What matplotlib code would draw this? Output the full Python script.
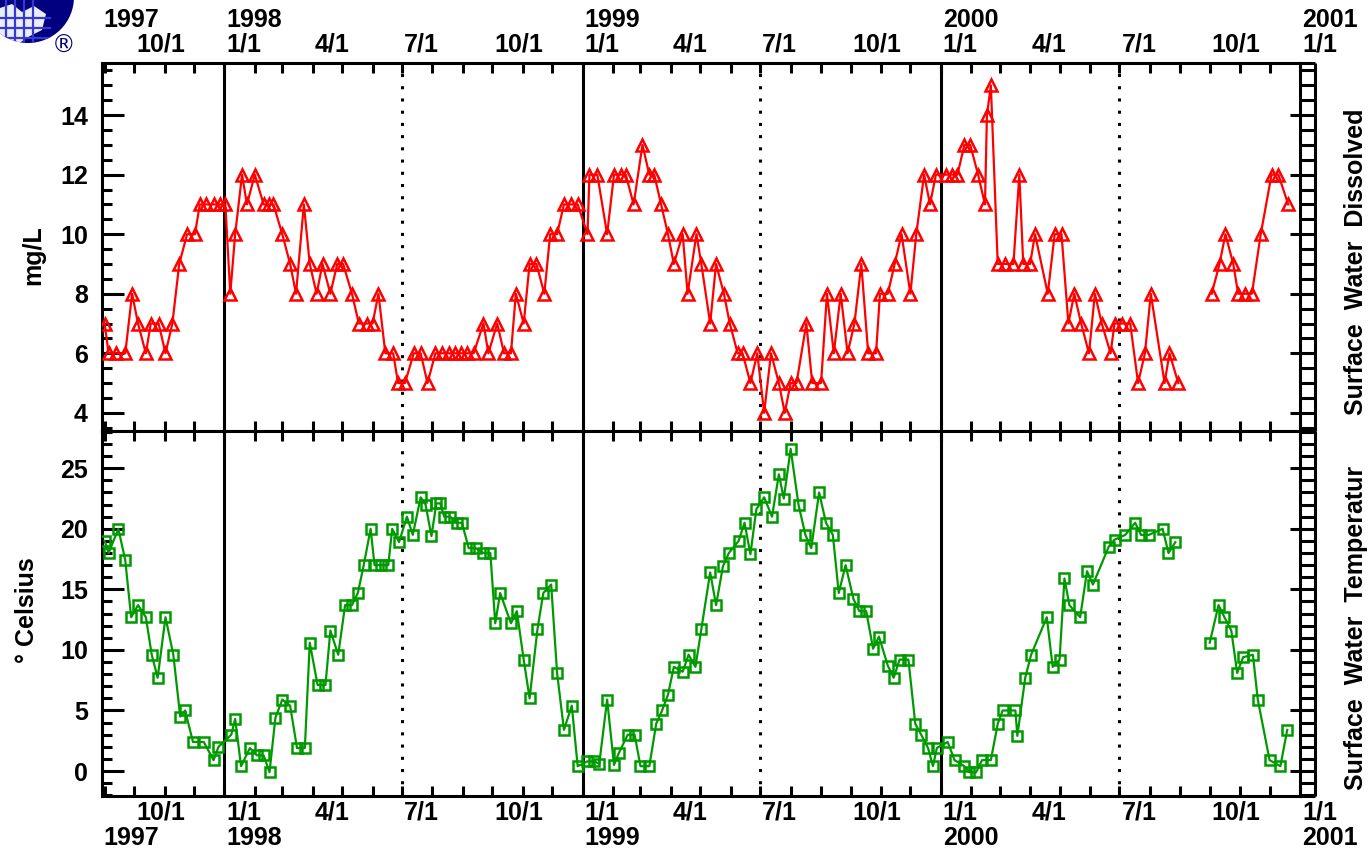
import datetime as dt
import numpy as np
import matplotlib
matplotlib.use("Agg")
import matplotlib.pyplot as plt
import matplotlib.dates as mdates
from matplotlib.ticker import MultipleLocator, NullLocator, NullFormatter
from matplotlib.transforms import blended_transform_factory
from matplotlib.patches import Circle, Polygon

plt.rcParams['font.family'] = ['Liberation Sans', 'DejaVu Sans']
plt.rcParams['font.weight'] = 'bold'

# ---------------- data (sample day counted from 1998-01-01) ----------------
do_day = [-122, -118, -110, -101, -94, -88, -80, -75, -67, -60, -53, -46, -38, -30, -25, -19, -11, -4,
          1, 6, 11, 18, 23, 31, 40, 45, 50, 59, 67, 73, 81, 87, 94, 100, 108, 115, 121, 130,
          137, 145, 151, 157, 164, 172, 177, 184, 193, 200, 207, 215, 222, 229, 235, 241, 247, 254,
          264, 269, 278, 285, 292, 297, 305, 311, 318, 326, 332, 339, 346, 353, 360,
          370, 372, 380, 390, 397, 404, 409, 417, 426, 433, 438, 445, 452, 458, 467, 472, 481, 486,
          495, 501, 509, 515, 523, 528, 536, 543, 550, 557, 565, 571, 577, 583, 593, 599, 608, 614,
          621, 628, 635, 642, 649, 656, 664, 668, 676, 683, 690, 699, 705, 713, 719, 725,
          735, 741, 747, 754, 760, 768, 775, 777, 781, 788, 795, 804, 810, 814, 821, 826, 839, 846,
          853, 860, 866, 873, 881, 887, 894, 903, 907, 915, 923, 931, 938, 944, 958, 963, 972,
          1006, 1014, 1020, 1028, 1033, 1040, 1047, 1056, 1067, 1074, 1084]
do_mgL = [7, 6, 6, 6, 8, 7, 6, 7, 7, 6, 7, 9, 10, 10, 11, 11, 11, 11,
          11, 8, 10, 12, 11, 12, 11, 11, 11, 10, 9, 8, 11, 9, 8, 9, 8, 9, 9, 8,
          7, 7, 7, 8, 6, 6, 5, 5, 6, 6, 5, 6, 6, 6, 6, 6, 6, 6,
          7, 6, 7, 6, 6, 8, 7, 9, 9, 8, 10, 10, 11, 11, 11,
          10, 12, 12, 10, 12, 12, 12, 11, 13, 12, 12, 11, 10, 9, 10, 8, 10, 9,
          7, 9, 8, 7, 6, 6, 5, 6, 4, 6, 5, 4, 5, 5, 7, 5, 5, 8,
          6, 8, 6, 7, 9, 6, 6, 8, 8, 9, 10, 8, 10, 12, 11, 12,
          12, 12, 12, 13, 13, 12, 11, 14, 15, 9, 9, 9, 12, 9, 9, 10, 8, 10,
          10, 7, 8, 7, 6, 8, 7, 6, 7, 7, 7, 5, 6, 8, 5, 6, 5,
          8, 9, 10, 9, 8, 8, 8, 10, 12, 12, 11]

wt_day = [-122, -118, -108, -101, -95, -88, -80, -74, -68, -60, -52, -45, -40, -32, -21, -11, -6,
          7, 11, 17, 26, 33, 40, 46, 52, 59, 67, 74, 82, 87, 95, 103, 108, 116, 123, 130, 136,
          142, 149, 153, 160, 167, 171, 178, 186, 192, 200, 205, 211, 216, 220, 224, 230, 237, 242,
          249, 256, 264, 271, 276, 281, 292, 298, 305, 311, 319, 325, 333, 339, 346, 354, 360,
          370, 377, 382, 390, 397, 402, 411, 418, 424, 433, 440, 446, 452, 458, 467, 473, 480, 486,
          495, 501, 508, 514, 524, 530, 536, 542, 550, 558, 565, 570, 577, 585, 592, 598, 606, 613,
          620, 626, 633, 641, 647, 654, 661, 667, 676, 682, 688, 697, 704, 710, 717, 722, 726,
          737, 744, 754, 759, 766, 772, 781, 788, 793, 806, 808, 816, 822, 838, 844, 851, 856, 861,
          872, 879, 885, 901, 907, 918, 928, 934, 942, 956, 962, 969,
          1004, 1013, 1019, 1026, 1032, 1038, 1048, 1053, 1065, 1076, 1083]
wt_degC = [19, 18, 20, 17.4, 12.7, 13.7, 12.7, 9.6, 7.7, 12.7, 9.6, 4.5, 5.0, 2.4, 2.4, 0.9, 2.0,
           3.0, 4.3, 0.4, 1.9, 1.3, 1.3, -0.1, 4.4, 5.9, 5.4, 1.9, 1.9, 10.6, 7.1, 7.1, 11.6, 9.6, 13.7, 13.7, 14.7,
           17.0, 20.0, 17.0, 17.0, 17.0, 20.0, 18.9, 21.0, 19.5, 22.6, 22.0, 19.4, 22.1, 22.1, 21.0, 21.0, 20.5, 20.5,
           18.4, 18.4, 18.0, 18.0, 12.2, 14.7, 12.2, 13.2, 9.2, 6.0, 11.7, 14.7, 15.4, 8.1, 3.4, 5.4, 0.4,
           0.8, 0.8, 0.6, 5.9, 0.5, 1.5, 3.0, 3.0, 0.4, 0.4, 3.9, 5.0, 6.3, 8.6, 8.2, 9.6, 8.6, 11.7,
           16.4, 13.7, 16.9, 18.0, 19.0, 20.5, 17.9, 21.6, 22.6, 21.0, 24.5, 22.5, 26.6, 22.0, 19.5, 18.4, 23.0, 20.5,
           19.5, 14.7, 17.0, 14.2, 13.2, 13.2, 10.1, 11.1, 8.7, 7.7, 9.2, 9.2, 3.9, 3.0, 1.9, 0.4, 1.9,
           2.4, 0.9, 0.4, -0.1, -0.1, 0.9, 0.9, 3.9, 5.0, 5.0, 2.9, 7.7, 9.6, 12.7, 8.6, 9.2, 15.9, 13.7,
           12.7, 16.5, 15.4, 18.5, 19.1, 19.5, 20.5, 19.5, 19.5, 20.0, 18.0, 18.9,
           10.6, 13.7, 12.7, 11.6, 8.1, 9.4, 9.6, 5.9, 0.9, 0.4, 3.4]

x_start, x_end = "1997-08-29", "2001-01-01"
month_ticks = [("1997-10-01", "10/1"),
               ("1998-01-01", "1/1"), ("1998-04-01", "4/1"), ("1998-07-01", "7/1"), ("1998-10-01", "10/1"),
               ("1999-01-01", "1/1"), ("1999-04-01", "4/1"), ("1999-07-01", "7/1"), ("1999-10-01", "10/1"),
               ("2000-01-01", "1/1"), ("2000-04-01", "4/1"), ("2000-07-01", "7/1"), ("2000-10-01", "10/1"),
               ("2001-01-01", "1/1")]
year_ticks = [("1997-08-29", "1997"), ("1998-01-01", "1998"), ("1999-01-01", "1999"),
              ("2000-01-01", "2000"), ("2001-01-01", "2001")]
year_lines = ["1998-01-01", "1999-01-01", "2000-01-01"]
mid_lines = ["1998-07-01", "1999-07-01", "2000-07-01"]

# ---------------- helpers ----------------
BASE = mdates.date2num(dt.date(1998, 1, 1))


def dnum(s):
    return mdates.date2num(dt.date.fromisoformat(s))


def series(days, vals, maxgap=25):
    xs, ys = [], []
    for i, (d, v) in enumerate(zip(days, vals)):
        if i and d - days[i - 1] > maxgap:
            xs.append(np.nan)
            ys.append(np.nan)
        xs.append(BASE + d)
        ys.append(v)
    return np.array(xs), np.array(ys)


W, H = 1371, 848
fig = plt.figure(figsize=(W / 100, H / 100), dpi=100)
L, R = 101.7, 1300.0
T1, B1, B2 = 62.7, 430.7, 796.0
ax1 = fig.add_axes([L / W, 1 - B1 / H, (R - L) / W, (B1 - T1) / H])
ax2 = fig.add_axes([L / W, 1 - B2 / H, (R - L) / W, (B2 - B1) / H])

LW = 2.2
FS = 18
RED, GREEN = "#ff0000", "#009a00"

x1, y1 = series(do_day, do_mgL)
ax1.plot(x1, y1, color=RED, lw=1.6, marker="^", ms=8.5, mfc="none", mec=RED, mew=1.8, zorder=3)
x2, y2 = series(wt_day, wt_degC)
ax2.plot(x2, y2, color=GREEN, lw=1.6, marker="s", ms=7.5, mfc="none", mec=GREEN, mew=1.8, zorder=3)

ax1.set_ylim(3.4, 15.76)
ax2.set_ylim(-2.06, 28.1)

for ax, maj, mnr in ((ax1, 2, 0.5), (ax2, 5, 1)):
    ax.set_xlim(dnum(x_start), dnum(x_end))
    for s in ax.spines.values():
        s.set_linewidth(LW)
    ax.xaxis.set_major_locator(mdates.MonthLocator(bymonthday=1))
    ax.xaxis.set_major_formatter(NullFormatter())
    ax.xaxis.set_minor_locator(NullLocator())
    ax.tick_params(axis="x", which="major", direction="in", length=7.2, width=LW,
                   top=True, bottom=True, labelbottom=False, labeltop=False)
    ax.yaxis.set_major_locator(MultipleLocator(maj))
    ax.yaxis.set_minor_locator(MultipleLocator(mnr))
    ax.tick_params(axis="y", which="major", direction="in", length=15.8, width=LW,
                   left=True, right=False, labelsize=FS, pad=10)
    ax.tick_params(axis="y", which="minor", direction="in", length=7.2, width=LW,
                   left=True, right=False)
    for d in year_lines:
        ax.axvline(dnum(d), color="k", lw=LW, zorder=2)
    for d in mid_lines:
        ax.axvline(dnum(d), color="k", lw=LW, ls=(0, (1, 3)), dash_capstyle="butt", zorder=2)
    # right-hand ladder axis
    lo, hi = ax.get_ylim()
    tr = ax.get_yaxis_transform()
    out = 14.5 / (R - L)
    inn = 10.0 / (R - L)
    rungs = [lo, hi] + [v for v in np.arange(np.ceil(lo / mnr) * mnr, hi, mnr)]
    ax.hlines(rungs, 1.0, 1.0 + out, transform=tr, colors="k", lw=LW, clip_on=False)
    ax.vlines(1.0 + out, lo, hi, transform=tr, colors="k", lw=LW, clip_on=False)
    majors = [v for v in np.arange(np.ceil(lo / maj) * maj, hi, maj)]
    ax.hlines(majors, 1.0 - inn, 1.0, transform=tr, colors="k", lw=LW, clip_on=False)

# date labels above / below
ttop = blended_transform_factory(ax1.transData, fig.transFigure)
tbot = blended_transform_factory(ax2.transData, fig.transFigure)
off = 2.0 / 0.98  # ~2 px in days
for d, s in month_ticks:
    fig.text(dnum(d) + off, 1 - 44 / H, s, transform=ttop, ha="left", va="center", fontsize=FS)
    fig.text(dnum(d) + off, 1 - 813 / H, s, transform=tbot, ha="left", va="center", fontsize=FS)
for d, s in year_ticks:
    fig.text(dnum(d) + off, 1 - 20 / H, s, transform=ttop, ha="left", va="center", fontsize=FS)
    fig.text(dnum(d) + off, 1 - 838 / H, s, transform=tbot, ha="left", va="center", fontsize=FS)

# axis titles
fig.text(33 / W, 1 - 255 / H, "mg/L", rotation=90, ha="center", va="center", fontsize=FS)
fig.text(27 / W, 1 - 610 / H, "\u00b0 Celsius", rotation=90, ha="center", va="center", fontsize=FS)
fig.text(1356 / W, 1 - 415 / H, "Surface  Water  Dissolved", rotation=90, ha="center",
         va="bottom", fontsize=FS)
fig.text(1356 / W, 1 - 790 / H, "Surface  Water  Temperatur", rotation=90, ha="center",
         va="bottom", fontsize=FS)

# logo (partially cut globe + registered mark)
lax = fig.add_axes([0, 1 - 80 / H, 110 / W, 80 / H])
lax.set_xlim(0, 110)
lax.set_ylim(80, 0)
lax.axis("off")
globe = Circle((28, -3), 46, facecolor="#000080", edgecolor="none")
lax.add_patch(globe)
land = Polygon([(0, 8), (12, 4), (22, 12), (34, 6), (46, 14), (42, 30), (30, 36), (18, 44), (0, 44)],
               closed=True, facecolor="#e8ecff", edgecolor="none")
lax.add_patch(land)
land.set_clip_path(globe)
for gx in (6, 15, 24, 33):
    ln, = lax.plot([gx, gx], [0, 45], color="#3838d0", lw=1.6)
    ln.set_clip_path(globe)
for gy in (18, 28, 38):
    ln, = lax.plot([0, 50], [gy, gy], color="#3838d0", lw=1.6)
    ln.set_clip_path(globe)
lax.text(64, 46, "\u00ae", color="#000080", fontsize=17, ha="center", va="center",
         family=["DejaVu Sans"], weight="normal")

fig.savefig("out.png", dpi=100)
